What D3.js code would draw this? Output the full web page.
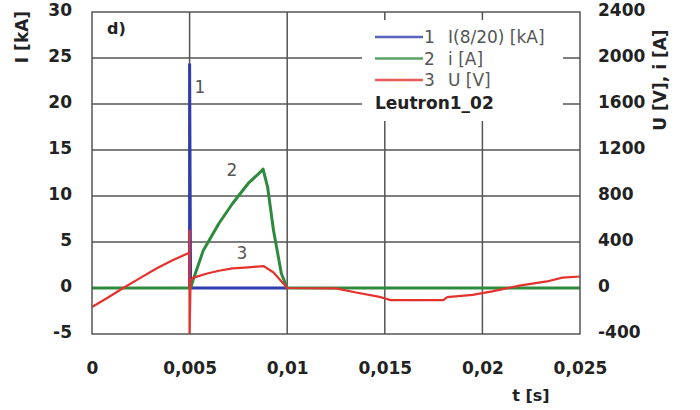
<!DOCTYPE html>
<html><head><meta charset="utf-8">
<script src="https://cdn.jsdelivr.net/npm/d3@7"></script>
<style>body{margin:0;background:#fff}svg{display:block}</style>
</head><body>
<svg id="c" width="700" height="410"></svg>
<script>
// ---- data ----
const xTicks = [0, 0.005, 0.01, 0.015, 0.02, 0.025];
const xTickLabels = ["0", "0,005", "0,01", "0,015", "0,02", "0,025"];
const leftTicks = [-5, 0, 5, 10, 15, 20, 25, 30];
const rightTicks = [-400, 0, 400, 800, 1200, 1600, 2000, 2400];
const legendLabels = ["I(8/20) [kA]", "i [A]", "U [V]"];
const legendNumbers = ["1", "2", "3"];
const legendTitle = "Leutron1_02";
const panelLabel = "d)";

// series 1: surge current I(8/20) [kA] (left axis)
const surgeT  = [0.005, 0.005, 0.00505, 0.0100];
const surgeKA = [0, 24.4, 0, 0];

// series 2: current i [A] (right axis)
const currentT = [0, 0.005, 0.00505, 0.00517, 0.0057, 0.0065, 0.0072, 0.0080, 0.0087, 0.00876, 0.0090, 0.0093, 0.0097, 0.0100, 0.025];
const currentA = [0, 0, 0, 65, 326, 561, 735, 909, 1020, 1035, 874, 500, 126, 0, 0];

// series 3: voltage U [V] (right axis)
const voltageT = [0, 0.0008, 0.0016, 0.0025, 0.0033, 0.0041, 0.0049, 0.005, 0.005, 0.005, 0.00505, 0.0052, 0.0059, 0.0065, 0.0072, 0.0080, 0.0088, 0.0093, 0.0098, 0.0100, 0.0125, 0.0134, 0.0148, 0.0153, 0.0180, 0.0182, 0.0195, 0.0205, 0.0219, 0.0233, 0.0241, 0.025];
const voltageV = [-165, -85, 0, 90, 170, 240, 300, 310, 500, -390, 60, 90, 126, 150, 170, 180, 190, 135, 40, 0, -3, -35, -80, -105, -105, -80, -60, -30, 20, 57, 90, 100];

// curve annotations: [t, kA]
const curveLabels = ["1", "2", "3"];
const curveLabelT = [0.00553, 0.00717, 0.00768];
const curveLabelKA = [21.8, 12.8, 3.8];

const colors = ["#2f3cab", "#2e8b3e", "#e5322c"];

// ---- layout ----
const svg = d3.select("#c");
const L = 92, R = 580, T = 12, B = 334;
const x = d3.scaleLinear().domain([0, 0.025]).range([L, R]);
const yL = d3.scaleLinear().domain([-5, 30]).range([B, T]);
const yR = d3.scaleLinear().domain([-400, 2400]).range([B, T]);
const font = "DejaVu Sans";
const gridColor = "#555";

// grid
const g = svg.append("g");
g.selectAll("line.h").data(leftTicks.slice(1, -1)).join("line")
  .attr("x1", L).attr("x2", R).attr("y1", d => yL(d)).attr("y2", d => yL(d))
  .attr("stroke", gridColor).attr("stroke-width", 1.5);
g.selectAll("line.v").data(xTicks.slice(1, -1)).join("line")
  .attr("x1", d => x(d)).attr("x2", d => x(d)).attr("y1", T).attr("y2", B)
  .attr("stroke", gridColor).attr("stroke-width", 1.5);

// legend background (hides grid)
svg.append("rect").attr("x", 362).attr("y", 20).attr("width", 201).attr("height", 101).attr("fill", "#fff");

// series
const lineGen = (ts, vs, ys) => d3.line()(ts.map((t, i) => [x(t), ys(vs[i])]));
const plot = svg.append("g");
plot.append("path").attr("d", lineGen(surgeT, surgeKA, yL)).attr("fill", "none")
  .attr("stroke", colors[0]).attr("stroke-width", 3);
plot.append("path").attr("d", lineGen(currentT, currentA, yR)).attr("fill", "none")
  .attr("stroke", colors[1]).attr("stroke-width", 3).attr("stroke-linejoin", "round");
plot.append("path").attr("d", lineGen(voltageT, voltageV, yR)).attr("fill", "none")
  .attr("stroke", colors[2]).attr("stroke-width", 2.2).attr("stroke-linejoin", "round");

// curve labels
curveLabels.forEach((lab, i) => {
  const cx = x(curveLabelT[i]), cy = yL(curveLabelKA[i]);
  svg.append("rect").attr("x", cx - 7).attr("y", cy - 9).attr("width", 14).attr("height", 18).attr("fill", "#fff");
  svg.append("text").attr("x", cx).attr("y", cy).attr("text-anchor", "middle")
    .attr("dominant-baseline", "central").attr("font-family", font).attr("font-size", 17)
    .attr("fill", "#555").text(lab);
});

// frame
svg.append("rect").attr("x", L).attr("y", T).attr("width", R - L).attr("height", B - T)
  .attr("fill", "none").attr("stroke", gridColor).attr("stroke-width", 1.5);

// axes (tick labels only)
const tickStyle = sel => sel.selectAll("text").attr("font-family", font).attr("font-size", 17)
  .attr("font-weight", "bold").attr("fill", "#222");
const plain = d => String(d);
const axL = svg.append("g").attr("transform", `translate(${L},0)`)
  .call(d3.axisLeft(yL).tickValues(leftTicks).tickFormat(plain).tickSize(0).tickPadding(20));
axL.call(tickStyle); axL.select(".domain").remove();
axL.selectAll("text").attr("dy", "0.2em");
const axR = svg.append("g").attr("transform", `translate(${R},0)`)
  .call(d3.axisRight(yR).tickValues(rightTicks).tickFormat(plain).tickSize(0).tickPadding(18));
axR.call(tickStyle); axR.select(".domain").remove();
axR.selectAll("text").attr("dy", "0.2em");
const axB = svg.append("g").attr("transform", `translate(0,${B})`)
  .call(d3.axisBottom(x).tickValues(xTicks).tickFormat((d, i) => xTickLabels[i]).tickSize(0).tickPadding(28));
axB.call(tickStyle); axB.select(".domain").remove();

// axis titles
svg.append("text").attr("transform", "translate(28,37) rotate(-90)").attr("text-anchor", "middle")
  .attr("font-family", font).attr("font-size", 17).attr("font-weight", "bold").attr("fill", "#222").text("I [kA]");
svg.append("text").attr("transform", "translate(666,80) rotate(-90)").attr("text-anchor", "middle")
  .attr("font-family", font).attr("font-size", 17).attr("font-weight", "bold").attr("fill", "#222").text("U [V], i [A]");
svg.append("text").attr("x", 531).attr("y", 401).attr("text-anchor", "middle")
  .attr("font-family", font).attr("font-size", 16).attr("font-weight", "bold").attr("fill", "#222").text("t [s]");
svg.append("text").attr("x", 107).attr("y", 34)
  .attr("font-family", font).attr("font-size", 16).attr("font-weight", "bold").attr("fill", "#222").text(panelLabel);

// legend
const lg = svg.append("g");
legendLabels.forEach((lab, i) => {
  const ly = 37 + i * 21.5;
  lg.append("line").attr("x1", 375).attr("x2", 423).attr("y1", ly).attr("y2", ly)
    .attr("stroke", colors[i]).attr("stroke-width", 2.5).attr("opacity", 0.8);
  lg.append("text").attr("x", 424).attr("y", ly).attr("dominant-baseline", "central")
    .attr("font-family", font).attr("font-size", 17).attr("fill", "#555").text(legendNumbers[i]);
  lg.append("text").attr("x", 448).attr("y", ly).attr("dominant-baseline", "central")
    .attr("font-family", font).attr("font-size", 17).attr("fill", "#555").text(lab);
});
lg.append("text").attr("x", 375).attr("y", 109).attr("font-family", font).attr("font-size", 17)
  .attr("font-weight", "bold").attr("fill", "#222").text(legendTitle);
</script>
</body></html>
